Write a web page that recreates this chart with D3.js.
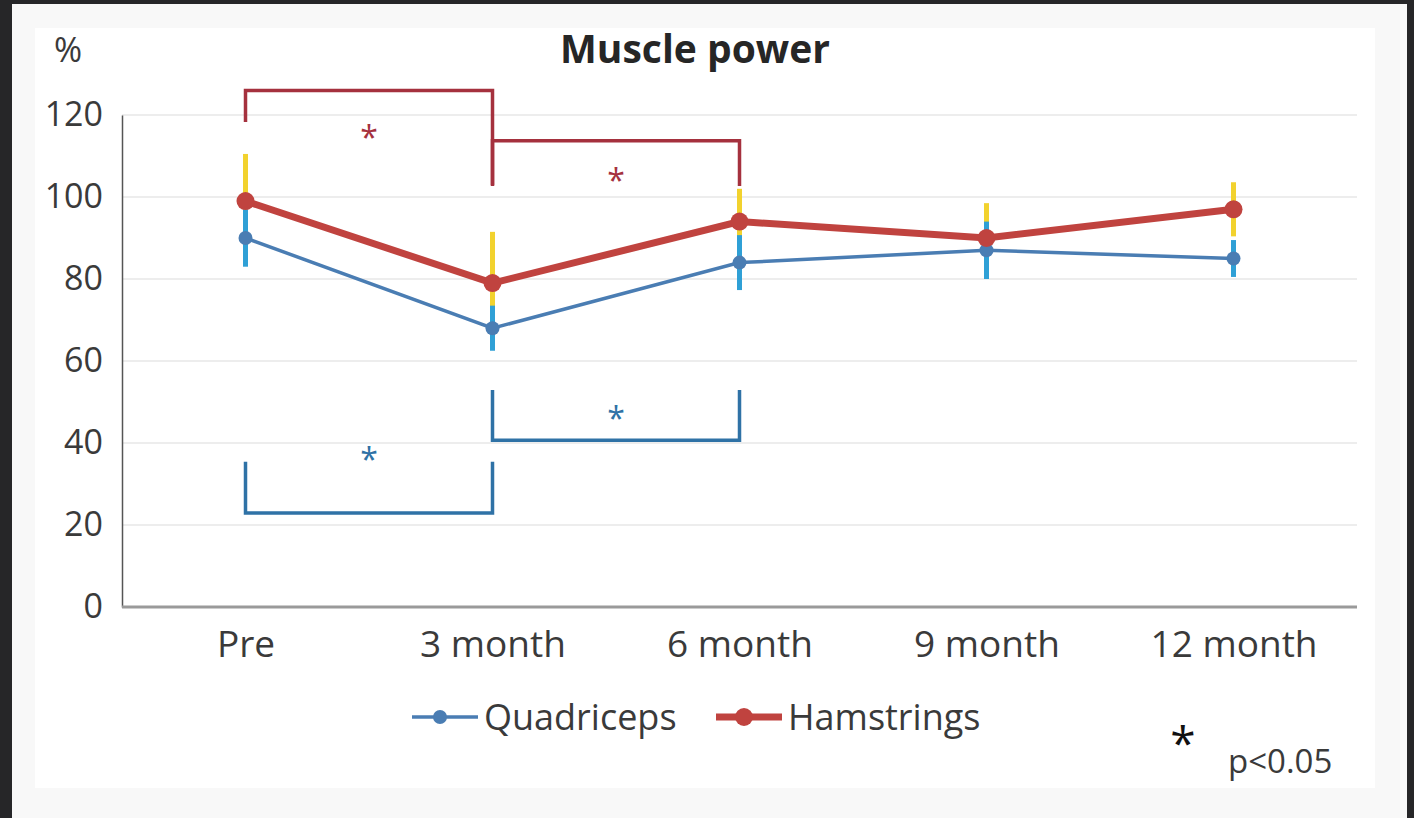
<!DOCTYPE html>
<html>
<head>
<meta charset="utf-8">
<script src="https://cdn.jsdelivr.net/npm/d3@7"></script>
<style>
  html, body { margin: 0; padding: 0; background: #262628; }
  svg { display: block; font-family: 'Open Sans', sans-serif; }
</style>
</head>
<body>
<div id="chart"></div>
<script>
// data
var categories = ['Pre', '3 month', '6 month', '9 month', '12 month']
var quadriceps = [90, 68, 84, 87, 85]
var quadriceps_sd = [7, 5.5, 6.7, 7, 4.5]
var hamstrings = [99, 79, 94, 90, 97]
var hamstrings_sd = [11.5, 12.5, 8, 8.5, 6.6]
var y_ticks = [0, 20, 40, 60, 80, 100, 120]

// significance brackets: [from, to, bar level, left leg end, right leg end, star level]
var red_brackets = [
  ['Pre', '3 month', 126, 118.3, 102.9, 116.5],
  ['3 month', '6 month', 113.7, 102.7, 102.7, 106]
]
var blue_brackets = [
  ['Pre', '3 month', 22.9, 35.4, 35.4, 38],
  ['3 month', '6 month', 40.7, 52.9, 52.9, 48]
]

var W = 1414, H = 818
var FONT = "'Open Sans', sans-serif"
var COLOR = {
  QUAD: '#4a7db3',
  HAM: '#c0433f',
  QUAD_ERR: '#2fa0d6',
  HAM_ERR: '#f2d22e',
  RED_BR: '#a5313e',
  BLUE_BR: '#2f72a6',
  TEXT: '#3a3a3a'
}

var svg = d3.select('#chart').append('svg')
  .attr('width', W)
  .attr('height', H)

// panel
svg.append('rect').attr('x', 12).attr('y', 4).attr('width', 1395).attr('height', 814).attr('fill', '#f8f8f8')
svg.append('rect').attr('x', 35).attr('y', 28).attr('width', 1340).attr('height', 760).attr('fill', '#ffffff')

// scale
var x = d3.scalePoint()
  .domain(categories)
  .range([122, 1357])
  .padding(0.5)

var y = d3.scaleLinear()
  .domain([0, 120])
  .range([607, 115])

// grid
svg.append('g')
  .selectAll('line')
  .data(y_ticks.filter(d => d > 0))
  .enter()
  .append('line')
  .attr('x1', 122)
  .attr('x2', 1357)
  .attr('y1', d => y(d))
  .attr('y2', d => y(d))
  .attr('stroke', '#ededed')
  .attr('stroke-width', 2)

// axes
var yAxis = svg.append('g')
  .attr('transform', 'translate(122,0)')
  .call(d3.axisLeft(y).tickValues(y_ticks).tickSize(0).tickPadding(19))
  .attr('font-family', FONT)
yAxis.select('.domain').attr('stroke', '#555').attr('stroke-width', 1.5)
yAxis.selectAll('text').attr('font-size', '34px').attr('fill', COLOR.TEXT)

var xAxis = svg.append('g')
  .attr('transform', 'translate(0,' + y(0) + ')')
  .call(d3.axisBottom(x).tickSize(0).tickPadding(24))
  .attr('font-family', FONT)
xAxis.select('.domain').remove()
xAxis.selectAll('text').attr('font-size', '37px').attr('fill', COLOR.TEXT)
svg.append('line')
  .attr('x1', 122).attr('x2', 1357)
  .attr('y1', y(0)).attr('y2', y(0))
  .attr('stroke', '#9a9a9a')
  .attr('stroke-width', 3)

// error bars
function errorBars (vals, sds, color) {
  svg.append('g')
    .selectAll('line')
    .data(vals)
    .enter()
    .append('line')
    .attr('x1', (d, i) => x(categories[i]))
    .attr('x2', (d, i) => x(categories[i]))
    .attr('y1', (d, i) => y(d + sds[i]))
    .attr('y2', (d, i) => y(d - sds[i]))
    .attr('stroke', color)
    .attr('stroke-width', 5)
}
errorBars(hamstrings, hamstrings_sd, COLOR.HAM_ERR)
errorBars(quadriceps, quadriceps_sd, COLOR.QUAD_ERR)

// lines
var line = d3.line()
  .x((d, i) => x(categories[i]))
  .y(d => y(d))

svg.append('path').datum(quadriceps)
  .attr('d', line).attr('fill', 'none')
  .attr('stroke', COLOR.QUAD).attr('stroke-width', 3.5)
svg.selectAll('.quad-dot').data(quadriceps).enter().append('circle')
  .attr('class', 'quad-dot')
  .attr('cx', (d, i) => x(categories[i])).attr('cy', d => y(d))
  .attr('r', 7).attr('fill', COLOR.QUAD)

svg.append('path').datum(hamstrings)
  .attr('d', line).attr('fill', 'none')
  .attr('stroke', COLOR.HAM).attr('stroke-width', 7)
svg.selectAll('.ham-dot').data(hamstrings).enter().append('circle')
  .attr('class', 'ham-dot')
  .attr('cx', (d, i) => x(categories[i])).attr('cy', d => y(d))
  .attr('r', 9).attr('fill', COLOR.HAM)

// brackets
function brackets (list, color) {
  list.forEach(b => {
    var x1 = x(b[0]), x2 = x(b[1])
    svg.append('path')
      .attr('d', 'M' + x1 + ',' + y(b[3]) + 'V' + y(b[2]) + 'H' + x2 + 'V' + y(b[4]))
      .attr('fill', 'none')
      .attr('stroke', color)
      .attr('stroke-width', 3.5)
    svg.append('text')
      .attr('x', (x1 + x2) / 2)
      .attr('y', y(b[5]))
      .attr('dy', '0.62em')
      .attr('text-anchor', 'middle')
      .attr('font-size', '32px')
      .attr('fill', color)
      .text('*')
  })
}
brackets(red_brackets, COLOR.RED_BR)
brackets(blue_brackets, COLOR.BLUE_BR)

// title
svg.append('text')
  .attr('x', 695).attr('y', 63)
  .attr('text-anchor', 'middle')
  .attr('font-size', '39px').attr('font-weight', 'bold')
  .attr('fill', '#262626')
  .text('Muscle power')

svg.append('text')
  .attr('x', 54).attr('y', 62)
  .attr('font-size', '34px')
  .attr('fill', COLOR.TEXT)
  .text('%')

// legend
var legend = [
  { name: 'Quadriceps', color: COLOR.QUAD, x: 412, w: 3.5, r: 7 },
  { name: 'Hamstrings', color: COLOR.HAM, x: 716, w: 7, r: 9 }
]
legend.forEach(l => {
  var g = svg.append('g').attr('transform', 'translate(' + l.x + ',717)')
  g.append('line').attr('x1', 0).attr('x2', 66).attr('stroke', l.color).attr('stroke-width', l.w)
  g.append('circle').attr('cx', 28).attr('r', l.r).attr('fill', l.color)
  g.append('text').attr('x', 72).attr('dy', '0.35em')
    .attr('font-size', '36px').attr('fill', COLOR.TEXT).text(l.name)
})

svg.append('text')
  .attr('x', 1183).attr('y', 760)
  .attr('text-anchor', 'middle')
  .attr('font-size', '46px').attr('fill', '#111')
  .text('*')
svg.append('text')
  .attr('x', 1228).attr('y', 773)
  .attr('font-size', '33px').attr('fill', COLOR.TEXT)
  .text('p<0.05')
</script>
</body>
</html>
